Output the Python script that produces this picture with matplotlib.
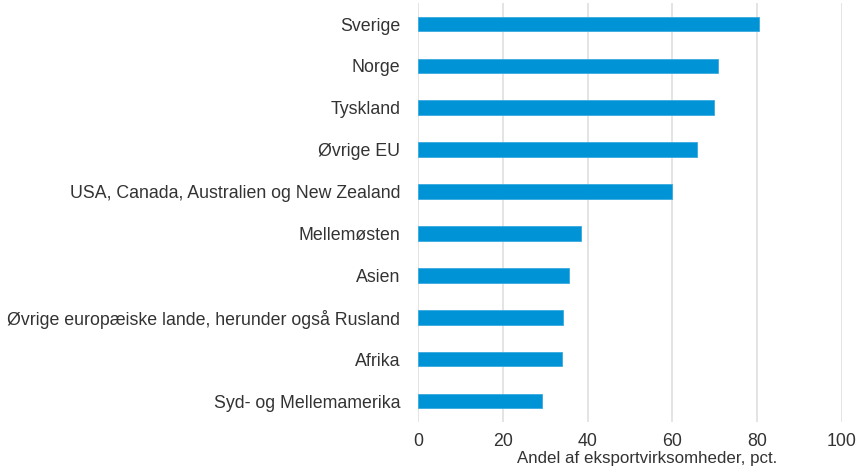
import numpy as np
import matplotlib.pyplot as plt

plt.rcParams['font.family'] = ['Liberation Sans', 'DejaVu Sans']

regioner = ["Sverige", "Norge", "Tyskland", "Øvrige EU",
            "USA, Canada, Australien og New Zealand", "Mellemøsten", "Asien",
            "Øvrige europæiske lande, herunder også Rusland", "Afrika",
            "Syd- og Mellemamerika"]
andel = [80.4, 70.8, 69.7, 65.9, 59.9, 38.5, 35.6, 34.1, 33.9, 29.1]
xticks = [0, 20, 40, 60, 80, 100]

fig = plt.figure(figsize=(8.57, 4.72), dpi=100)
ax = fig.add_axes([0.488, 0.106, 0.4945, 0.8875])

y = np.arange(len(regioner))
ax.barh(y, andel, height=0.35, color="#0093D6", edgecolor="#3AA9E0", linewidth=0.6, zorder=3)
ax.set_ylim(len(regioner) - 0.5, -0.5)
ax.set_xlim(0, 100)
ax.set_yticks(y)
ax.set_yticklabels(regioner, fontsize=12.8, color="#333333")
ax.set_xticks(xticks)
ax.set_xticklabels([str(t) for t in xticks], fontsize=12.8, color="#333333")
ax.tick_params(length=0, pad=13)
ax.tick_params(axis="x", pad=8)
ax.grid(axis="x", color="#DDDDDD", linewidth=1.1, zorder=0)
for s in ax.spines.values():
    s.set_visible(False)
ax.set_xlabel("Andel af eksportvirksomheder, pct.", fontsize=12.2, color="#333333")
ax.xaxis.set_label_coords(0.54, -0.07)

fig.savefig("out.png", dpi=100)
